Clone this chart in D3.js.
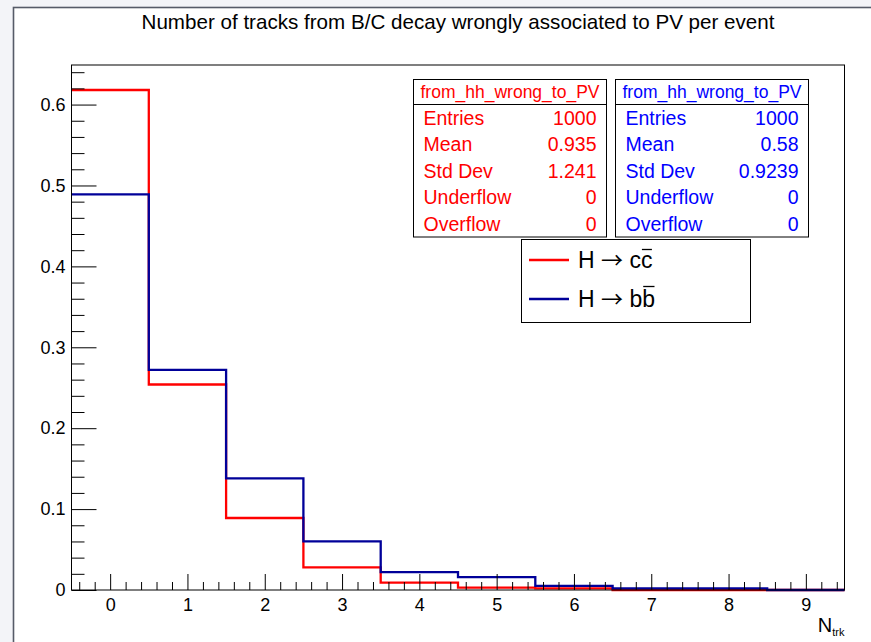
<!DOCTYPE html>
<html>
<head>
<meta charset="utf-8">
<script src="https://cdn.jsdelivr.net/npm/d3@7"></script>
<style>
  html, body { margin: 0; padding: 0; background: #f3f4f8; }
  svg { display: block; }
  text { font-family: "Liberation Sans", Arial, Helvetica, sans-serif; }
</style>
</head>
<body>
<svg id="chart" width="871" height="642"></svg>
<script>
// Histogram bins: integer track counts 0..9
const binCenters = [0, 1, 2, 3, 4, 5, 6, 7, 8, 9];
// Normalised fractions per bin
const ccValues = [0.618, 0.254, 0.089, 0.028, 0.009, 0.003, 0.002, 0, 0, 0];
const bbValues = [0.489, 0.272, 0.138, 0.060, 0.022, 0.016, 0.005, 0.002, 0.002, 0];

const xTickValues = [0, 1, 2, 3, 4, 5, 6, 7, 8, 9];
const yTickValues = [0, 0.1, 0.2, 0.3, 0.4, 0.5, 0.6];

const statsLabels = ["Entries", "Mean", "Std Dev", "Underflow", "Overflow"];
const statsRed = ["1000", "0.935", "1.241", "0", "0"];
const statsBlue = ["1000", "0.58", "0.9239", "0", "0"];
const histName = "from_hh_wrong_to_PV";

const titleText = "Number of tracks from B/C decay wrongly associated to PV per event";

const RED = "#ff0000";
const NAVY = "#000099";
const BLUE = "#0000ff";

const svg = d3.select("#chart");

// canvas pad
svg.append("rect").attr("x", 13.5).attr("y", 7.5).attr("width", 900).attr("height", 700)
  .attr("fill", "#ffffff").attr("stroke", "#565b68").attr("stroke-width", 1.6);

const frame = { left: 71.5, right: 844.5, top: 65, bottom: 590 };

const x = d3.scaleLinear().domain([-0.5, 9.5]).range([frame.left, frame.right]);
const y = d3.scaleLinear().domain([0, 0.6489]).range([frame.bottom, frame.top]);

// title
svg.append("text").attr("x", 458).attr("y", 29).attr("text-anchor", "middle")
  .attr("font-size", 20.6).attr("fill", "#000").text(titleText);

// step outline for a histogram
function stepPoints(values) {
  const pts = [];
  values.forEach((v, i) => {
    pts.push([binCenters[i] - 0.5, v]);
    pts.push([binCenters[i] + 0.5, v]);
  });
  return pts;
}
const line = d3.line().x(d => x(d[0])).y(d => y(d[1]));

svg.append("path").attr("d", line(stepPoints(ccValues)))
  .attr("fill", "none").attr("stroke", RED).attr("stroke-width", 2.3);
svg.append("path").attr("d", line(stepPoints(bbValues)))
  .attr("fill", "none").attr("stroke", NAVY).attr("stroke-width", 2.3);

// axes
const yMinor = d3.range(0, 0.6489, 0.02).filter(v => Math.abs(v * 10 - Math.round(v * 10)) > 1e-6);
const yAxisMajor = d3.axisLeft(y).tickValues(yTickValues).tickSizeInner(-25).tickSizeOuter(0)
  .tickPadding(6).tickFormat(d => d === 0 ? "0" : d3.format(".1f")(d));
const yAxisMinor = d3.axisLeft(y).tickValues(yMinor).tickSizeInner(-13).tickSizeOuter(0).tickFormat("");

const gy = svg.append("g").attr("transform", `translate(${frame.left},0)`).call(yAxisMajor);
const gy2 = svg.append("g").attr("transform", `translate(${frame.left},0)`).call(yAxisMinor);

const xMinor = d3.range(-0.4, 9.5, 0.2).filter(v => Math.abs(v - Math.round(v)) > 1e-6);
const xAxisMajor = d3.axisBottom(x).tickValues(xTickValues).tickSizeInner(-16).tickSizeOuter(0)
  .tickPadding(8).tickFormat(d3.format("d"));
const xAxisMinor = d3.axisBottom(x).tickValues(xMinor).tickSizeInner(-8).tickSizeOuter(0).tickFormat("");

const gx = svg.append("g").attr("transform", `translate(0,${frame.bottom})`).call(xAxisMajor);
const gx2 = svg.append("g").attr("transform", `translate(0,${frame.bottom})`).call(xAxisMinor);

[gy, gy2, gx, gx2].forEach(g => {
  g.select(".domain").remove();
  g.selectAll("line").attr("stroke", "#000").attr("stroke-width", 1);
  g.selectAll("text").attr("font-size", 18).attr("fill", "#000")
    .attr("font-family", "'Liberation Sans', Arial, sans-serif");
});

// frame
svg.append("rect").attr("x", frame.left).attr("y", frame.top)
  .attr("width", frame.right - frame.left).attr("height", frame.bottom - frame.top)
  .attr("fill", "none").attr("stroke", "#000").attr("stroke-width", 1);

// x-axis title N_trk
const xt = svg.append("text").attr("x", frame.right).attr("y", 632).attr("text-anchor", "end")
  .attr("fill", "#000");
xt.append("tspan").attr("font-size", 20).text("N");
xt.append("tspan").attr("font-size", 11).attr("dy", 4).text("trk");

// statistics boxes
function statsBox(x0, x1, color, values) {
  const top = 79.5, sep = 104.5, bottom = 237;
  const g = svg.append("g");
  g.append("rect").attr("x", x0).attr("y", top).attr("width", x1 - x0).attr("height", bottom - top)
    .attr("fill", "#fff").attr("stroke", "#000").attr("stroke-width", 1);
  g.append("line").attr("x1", x0).attr("x2", x1).attr("y1", sep).attr("y2", sep)
    .attr("stroke", "#000").attr("stroke-width", 1);
  g.append("text").attr("x", (x0 + x1) / 2).attr("y", (top + sep) / 2).attr("dy", "0.35em")
    .attr("text-anchor", "middle").attr("font-size", 17.5).attr("fill", color).text(histName);
  const rowH = (bottom - sep) / statsLabels.length;
  statsLabels.forEach((lab, i) => {
    const cy = sep + rowH * (i + 0.5);
    g.append("text").attr("x", x0 + 10).attr("y", cy).attr("dy", "0.35em")
      .attr("font-size", 19.5).attr("fill", color).text(lab);
    g.append("text").attr("x", x1 - 10).attr("y", cy).attr("dy", "0.35em")
      .attr("text-anchor", "end").attr("font-size", 19.5).attr("fill", color).text(values[i]);
  });
}
statsBox(413.5, 606.5, RED, statsRed);
statsBox(615.5, 808.5, BLUE, statsBlue);

// legend
const leg = svg.append("g");
leg.append("rect").attr("x", 521.5).attr("y", 239.5).attr("width", 229).attr("height", 83)
  .attr("fill", "#fff").attr("stroke", "#000").attr("stroke-width", 1);
const legendItems = [
  { color: RED, quark: "c", cy: 260 },
  { color: NAVY, quark: "b", cy: 299 }
];
legendItems.forEach(it => {
  leg.append("line").attr("x1", 529).attr("x2", 569).attr("y1", it.cy).attr("y2", it.cy)
    .attr("stroke", it.color).attr("stroke-width", 2.3);
  const t = leg.append("text").attr("x", 578).attr("y", it.cy).attr("dy", "0.36em")
    .attr("font-size", 23).attr("fill", "#000");
  t.append("tspan").text("H ");
  t.append("tspan").attr("font-family", "'Noto Sans CJK JP', 'DejaVu Sans', sans-serif")
    .attr("font-size", 22).text("\u2192");
  t.append("tspan").text(" " + it.quark);
  t.append("tspan").text(it.quark);
  // overline above the antiquark
  const n = t.node();
  const total = n.getNumberOfChars();
  const start = n.getStartPositionOfChar(total - 1);
  const w = n.getSubStringLength(total - 1, 1);
  const barY = it.quark === "b" ? it.cy - 12.5 : it.cy - 10.5;
  leg.append("line").attr("x1", start.x + 1).attr("x2", start.x + w - 0.5)
    .attr("y1", barY).attr("y2", barY).attr("stroke", "#000").attr("stroke-width", 1.3);
});
</script>
</body>
</html>
